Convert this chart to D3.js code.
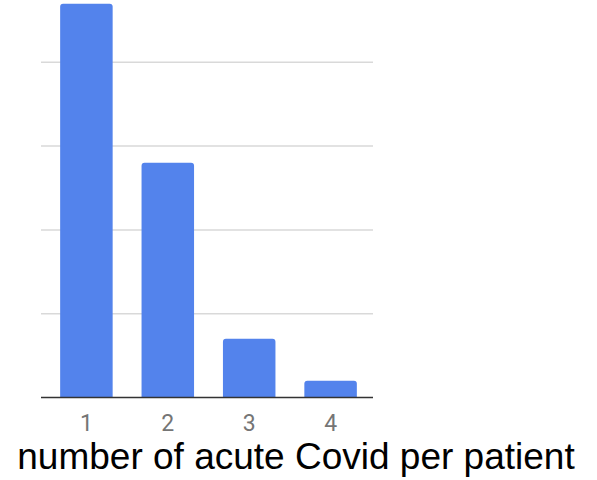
<!DOCTYPE html>
<html><head><meta charset="utf-8">
<script src="https://cdn.jsdelivr.net/npm/d3@7"></script>
<style>html,body{margin:0;padding:0;background:#fff;}</style>
</head><body>
<svg id="chart" width="597" height="480"></svg>
<script>
const categories = ["1", "2", "3", "4"];
const values = [94, 56, 14, 4];
const gridTicks = [20, 40, 60, 80];
const xTitle = "number of acute Covid per patient";

const svg = d3.select("#chart");
const x = d3.scaleBand().domain(categories).range([45.5, 371.5]).paddingInner(0.355).paddingOuter(0.18);
const y = d3.scaleLinear().domain([0, 100]).range([397.5, -21.5]);

svg.append("g").selectAll("line").data(gridTicks).join("line")
  .attr("x1", 41).attr("x2", 373)
  .attr("y1", d => y(d)).attr("y2", d => y(d))
  .attr("stroke", "#d9d9d9").attr("stroke-width", 1.5);

svg.append("g").selectAll("path").data(values).join("path")
  .attr("fill", "#5383ec")
  .attr("d", (d, i) => {
    const x0 = x(categories[i]), w = x.bandwidth(), y0 = y(d), y1 = y(0), r = 3;
    return `M${x0},${y1}V${y0 + r}Q${x0},${y0} ${x0 + r},${y0}H${x0 + w - r}Q${x0 + w},${y0} ${x0 + w},${y0 + r}V${y1}Z`;
  });

svg.append("line").attr("x1", 41).attr("x2", 373).attr("y1", y(0)).attr("y2", y(0))
  .attr("stroke", "#333").attr("stroke-width", 1.5);

const xAxis = svg.append("g").attr("transform", `translate(0,${y(0)})`)
  .call(d3.axisBottom(x).tickSize(0).tickPadding(0));
xAxis.select(".domain").remove();
xAxis.selectAll("text").attr("dy", null).attr("y", 33.5)
  .attr("font-family", "Roboto, sans-serif").attr("font-size", 23).attr("fill", "#757575");

svg.append("text").attr("x", 296).attr("y", 469).attr("text-anchor", "middle")
  .attr("font-family", "Liberation Sans, Arial, sans-serif").attr("font-size", 37).attr("fill", "#000")
  .text(xTitle);
</script>
</body></html>
